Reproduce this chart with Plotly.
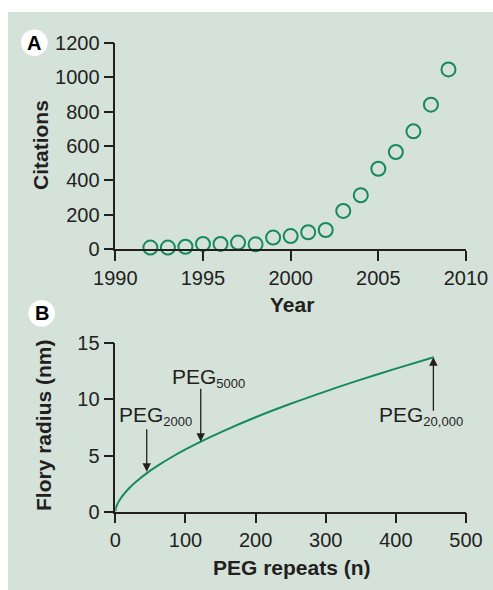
import plotly.graph_objects as go

# ---------------- Data ----------------
years = [1992, 1993, 1994, 1995, 1996, 1997, 1998, 1999, 2000, 2001,
         2002, 2003, 2004, 2005, 2006, 2007, 2008, 2009]
citations = [10, 10, 15, 31, 31, 39, 29, 68, 77, 99,
             112, 223, 314, 468, 565, 685, 840, 1045]

peg_repeats = [0, 1, 2, 5, 10, 20, 30, 45, 60, 80, 100, 122, 150, 200,
               250, 300, 350, 400, 454]
flory_radius = [0, 0.35, 0.53, 0.92, 1.39, 2.11, 2.69, 3.44, 4.08, 4.85,
                5.55, 6.25, 7.07, 8.41, 9.61, 10.72, 11.76, 12.74, 13.75]

peg_names = ["2000", "5000", "20,000"]
peg_n = [44.8, 121.8, 453.5]
peg_tip = [3.56, 6.24, 13.75]
peg_tail = [7.48, 11.08, 8.85]

year_ticks = [1990, 1995, 2000, 2005, 2010]
cit_ticks = [0, 200, 400, 600, 800, 1000, 1200]
n_ticks = [0, 100, 200, 300, 400, 500]
r_ticks = [0, 5, 10, 15]

# ---------------- Styling ----------------
W, H = 493, 590
BG = "#d5e2da"
GREEN = "#178a5b"
INK = "#231f20"
FONT = "Liberation Sans, Arial, sans-serif"


def px(x):
    return x / W


def py(y):
    return 1 - y / H


fig = go.Figure()

fig.add_trace(go.Scatter(
    x=years, y=citations, mode="markers", cliponaxis=False,
    marker=dict(symbol="circle-open", size=14, color=GREEN,
                line=dict(width=2, color=GREEN)),
    xaxis="x", yaxis="y", showlegend=False))

fig.add_trace(go.Scatter(
    x=peg_repeats, y=flory_radius, mode="lines",
    line=dict(color=GREEN, width=2, shape="spline"),
    xaxis="x2", yaxis="y2", showlegend=False))

axis_common = dict(showline=True, linecolor=INK, linewidth=1.5,
                   ticks="outside", ticklen=10, tickwidth=1.5, tickcolor=INK,
                   showgrid=False, zeroline=False, automargin=False,
                   tickfont=dict(family=FONT, size=20, color=INK))

xdom = [px(115.3), px(466)]
fig.update_layout(
    width=W, height=H,
    margin=dict(l=0, r=0, t=0, b=0, autoexpand=False),
    paper_bgcolor="white", plot_bgcolor="white",
    xaxis=dict(domain=xdom, range=[1990, 2010], tickvals=year_ticks,
               anchor="y", **axis_common),
    yaxis=dict(domain=[py(249.3), py(42.7)], range=[0, 1200],
               tickvals=cit_ticks, anchor="x", **axis_common),
    xaxis2=dict(domain=xdom, range=[0, 500], tickvals=n_ticks,
                anchor="y2", **axis_common),
    yaxis2=dict(domain=[py(511.7), py(343.3)], range=[0, 15],
                tickvals=r_ticks, anchor="x2", **axis_common),
)

shapes = [
    dict(type="rect", xref="paper", yref="paper", x0=px(8), x1=1.02,
         y0=-0.02, y1=py(12), fillcolor=BG, line=dict(width=0), layer="below"),
]
for cx, cy in [(34.3, 42.7), (41.7, 313.3)]:
    r = 13.3
    shapes.append(dict(type="circle", xref="paper", yref="paper",
                       x0=px(cx - r), x1=px(cx + r), y0=py(cy + r), y1=py(cy - r),
                       fillcolor="white", line=dict(width=0), layer="above"))
fig.update_layout(shapes=shapes)

ann = []
for txt, cx, cy in [("A", 34.3, 42.7), ("B", 41.7, 313.3)]:
    ann.append(dict(text=txt, x=px(cx), y=py(cy), xref="paper", yref="paper",
                    showarrow=False, xanchor="center", yanchor="middle",
                    font=dict(family=FONT, size=20, color="black", weight="bold")))

title_font = dict(family=FONT, size=21, color=INK, weight="bold")
ann += [
    dict(text="Citations", x=px(40), y=py(145), textangle=-90),
    dict(text="Year", x=px(291.7), y=py(304)),
    dict(text="Flory radius (nm)", x=px(43), y=py(425), textangle=-90),
    dict(text="PEG repeats (n)", x=px(291.7), y=py(567)),
]
for a in ann[2:]:
    a.update(xref="paper", yref="paper", showarrow=False,
             xanchor="center", yanchor="middle", font=title_font)

# arrows
for n, tip, tail in zip(peg_n, peg_tip, peg_tail):
    ann.append(dict(x=n, y=tip, ax=n, ay=tail, xref="x2", yref="y2",
                    axref="x2", ayref="y2", text="", showarrow=True,
                    arrowhead=2, arrowsize=1.3, arrowwidth=1.3,
                    arrowcolor=INK, standoff=0))

# PEG labels
label_pos = [(2.0, 8.55), (77.5, 11.95), (373.0, 8.55)]
for name, (lx, ly) in zip(peg_names, label_pos):
    ann.append(dict(
        text="PEG<sub><span style='font-size:13px'>" + name + "</span></sub>",
        x=lx, y=ly, xref="x2", yref="y2", showarrow=False,
        xanchor="left", yanchor="middle",
        font=dict(family=FONT, size=21, color=INK)))

fig.update_layout(annotations=ann)

fig.write_html(
    "out.html",
    config={"displayModeBar": False},
    post_script="document.body.style.margin='0';"
                "document.body.style.overflow='hidden';",
)
